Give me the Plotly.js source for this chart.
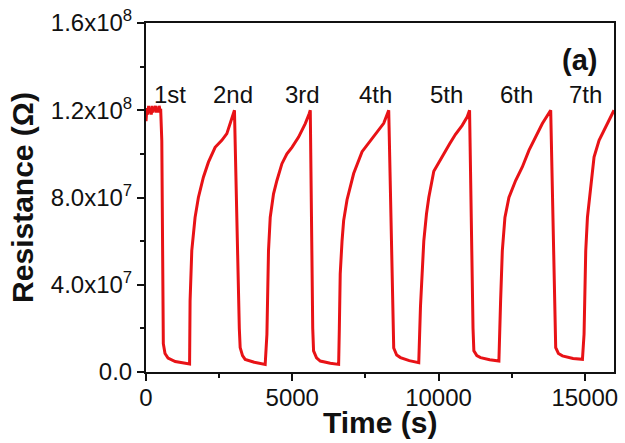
<!DOCTYPE html>
<html>
<head>
<meta charset="utf-8">
<script src="https://cdn.plot.ly/plotly-3.0.1.min.js"></script>
<style>html,body{margin:0;padding:0;background:#fff;}#chart{width:625px;height:443px;}</style>
</head>
<body>
<div id="chart"></div>
<script>
// Time (s)
const timeS = [
  0, 30, 60, 90, 120, 150, 180, 210, 240, 270, 300, 330, 360, 390, 420, 450, 480, 503,
  540, 575, 592, 650, 753, 1000, 1250, 1490,
  1507, 1565, 1678, 1791, 1962, 2134, 2363, 2592, 2764, 2877, 3024,
  3190, 3219, 3300, 3390, 3700, 4075,
  4134, 4188, 4247, 4360, 4476, 4647, 4818, 4990, 5216, 5445, 5582, 5616,
  5700, 5729, 5830, 5959, 6300, 6586,
  6610, 6640, 6702, 6757, 6873, 6986, 7099, 7387, 7558, 7784, 7955, 8127, 8298,
  8440, 8469, 8570, 8699, 9000, 9325,
  9384, 9497, 9589, 9668, 9839, 10011, 10182, 10387, 10582, 10811, 10983, 11062,
  11180, 11209, 11310, 11438, 11750, 12065,
  12123, 12182, 12271, 12408, 12637, 12866, 13092, 13322, 13551, 13836,
  13980, 14007, 14100, 14236, 14600, 14921,
  14976, 15034, 15092, 15205, 15318, 15490, 15719, 15948, 16000
];
// Resistance (Ohm)
const resistance = [
  1.15e8, 1.21e8, 1.18e8, 1.22e8, 1.19e8, 1.21e8, 1.18e8, 1.22e8, 1.19e8, 1.21e8, 1.20e8, 1.22e8, 1.19e8, 1.21e8, 1.19e8, 1.22e8, 1.20e8, 1.20e8,
  1.06e8, 0.50e8, 0.13e8, 0.085e8, 0.064e8, 0.048e8, 0.041e8, 0.037e8,
  0.326e8, 0.556e8, 0.709e8, 0.80e8, 0.893e8, 0.962e8, 1.03e8, 1.062e8, 1.093e8, 1.139e8, 1.20e8,
  0.20e8, 0.112e8, 0.075e8, 0.058e8, 0.045e8, 0.035e8,
  0.173e8, 0.556e8, 0.709e8, 0.817e8, 0.878e8, 0.955e8, 1.00e8, 1.03e8, 1.077e8, 1.139e8, 1.185e8, 1.20e8,
  0.20e8, 0.097e8, 0.065e8, 0.050e8, 0.040e8, 0.035e8,
  0.20e8, 0.45e8, 0.60e8, 0.694e8, 0.79e8, 0.855e8, 0.91e8, 1.01e8, 1.04e8, 1.08e8, 1.108e8, 1.14e8, 1.20e8,
  0.20e8, 0.11e8, 0.078e8, 0.066e8, 0.052e8, 0.043e8,
  0.30e8, 0.60e8, 0.725e8, 0.80e8, 0.92e8, 0.962e8, 1.00e8, 1.047e8, 1.09e8, 1.131e8, 1.17e8, 1.20e8,
  0.20e8, 0.097e8, 0.075e8, 0.066e8, 0.056e8, 0.050e8,
  0.326e8, 0.556e8, 0.709e8, 0.80e8, 0.878e8, 0.94e8, 1.016e8, 1.077e8, 1.139e8, 1.20e8,
  0.20e8, 0.112e8, 0.085e8, 0.074e8, 0.062e8, 0.058e8,
  0.173e8, 0.556e8, 0.709e8, 0.863e8, 0.985e8, 1.062e8, 1.123e8, 1.185e8, 1.20e8
];
// Cycle labels and their time positions
const cycleLabels = ["1st", "2nd", "3rd", "4th", "5th", "6th", "7th"];
const cycleLabelTimes = [822, 2979, 5342, 7842, 10274, 12671, 15034];
const cycleLabelLevel = 1.27e8;
// Axis ticks
const xTickVals = [0, 5000, 10000, 15000];
const xTickText = ["0", "5000", "10000", "15000"];
const yTickVals = [0, 4e7, 8e7, 1.2e8, 1.6e8];
const yTickText = ["0.0", "4.0x10<sup>7</sup>", "8.0x10<sup>7</sup>", "1.2x10<sup>8</sup>", "1.6x10<sup>8</sup>"];

const FONT = "Arial, 'Liberation Sans', Helvetica, sans-serif";

const trace = {
  x: timeS, y: resistance, type: "scatter", mode: "lines",
  line: {color: "rgb(232,18,22)", width: 3}, hoverinfo: "skip"
};

const annotations = cycleLabels.map((t, i) => ({
  x: cycleLabelTimes[i], y: cycleLabelLevel, xref: "x", yref: "y",
  text: t, showarrow: false, xanchor: "center", yanchor: "middle",
  font: {family: FONT, size: 24, color: "#111"}
}));
annotations.push({
  x: 0.927, y: 0.894, xref: "paper", yref: "paper", text: "<b>(a)</b>",
  showarrow: false, xanchor: "center", yanchor: "middle",
  font: {family: FONT, size: 29, color: "#111"}
});
// x-axis title, placed as text just under the tick labels
annotations.push({
  x: 0.5, y: -0.146, xref: "paper", yref: "paper", text: "<b>Time (s)</b>",
  showarrow: false, xanchor: "center", yanchor: "middle",
  font: {family: FONT, size: 30, color: "#111"}
});

const layout = {
  width: 625, height: 443,
  margin: {l: 146, r: 11, t: 23, b: 71, pad: 0},
  paper_bgcolor: "#fff", plot_bgcolor: "#fff",
  showlegend: false,
  font: {family: FONT, color: "#111"},
  xaxis: {
    range: [0, 16000], tickmode: "array", tickvals: xTickVals, ticktext: xTickText,
    ticks: "outside", ticklen: 7, tickwidth: 2, tickcolor: "#111",
    minor: {dtick: 2500, tick0: 0, ticks: "outside", ticklen: 4, tickwidth: 2, tickcolor: "#111"},
    showline: true, linewidth: 2, linecolor: "#111", mirror: true,
    showgrid: false, zeroline: false,
    tickfont: {family: FONT, size: 24, color: "#111"},
    ticklabelstandoff: -4,
    automargin: false
  },
  yaxis: {
    range: [0, 1.6e8], tickmode: "array", tickvals: yTickVals, ticktext: yTickText,
    ticks: "outside", ticklen: 7, tickwidth: 2, tickcolor: "#111",
    minor: {dtick: 2e7, tick0: 0, ticks: "outside", ticklen: 4, tickwidth: 2, tickcolor: "#111"},
    showline: true, linewidth: 2, linecolor: "#111", mirror: true,
    showgrid: false, zeroline: false,
    tickfont: {family: FONT, size: 24, color: "#111"},
    title: {text: "<b>Resistance (Ω)</b>", font: {family: FONT, size: 30, color: "#111"}, standoff: 8},
    automargin: false
  },
  annotations: annotations
};

Plotly.newPlot("chart", [trace], layout, {staticPlot: true, displayModeBar: false});
</script>
</body>
</html>
